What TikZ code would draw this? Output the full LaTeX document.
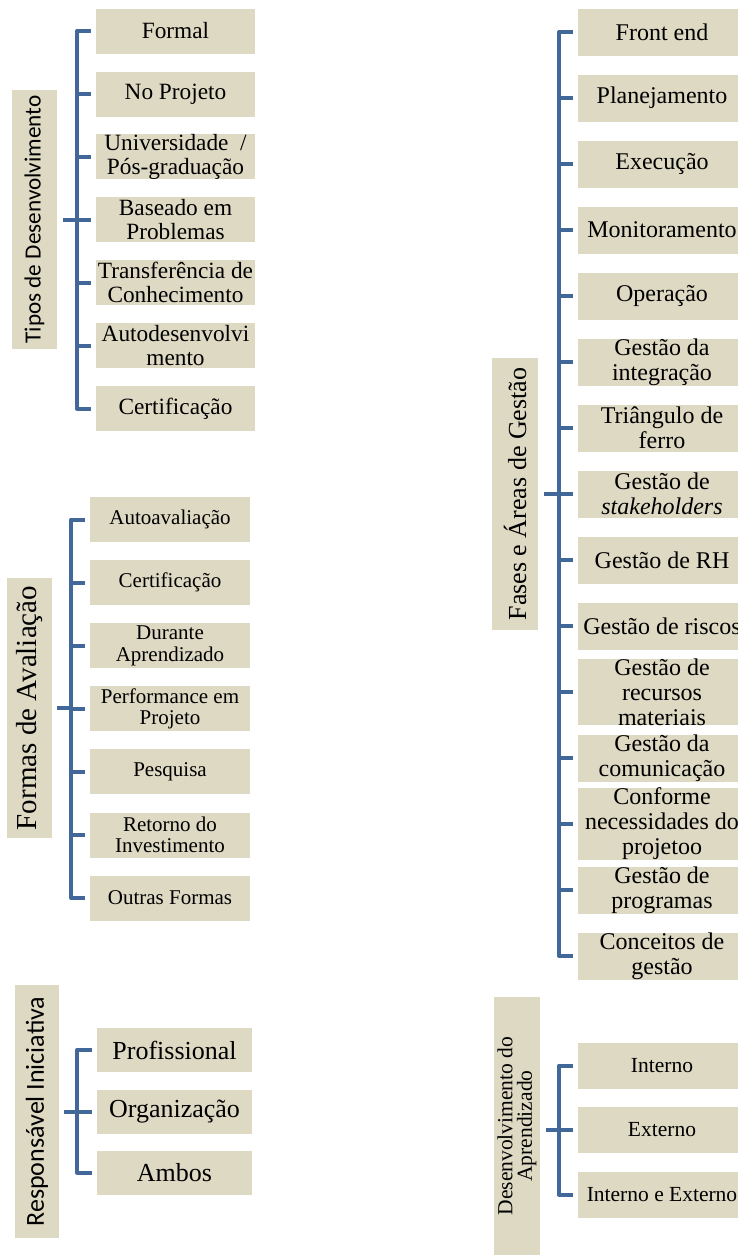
\documentclass[tikz,border=0pt]{standalone}
\usepackage{fontspec}
\setmainfont{Liberation Serif}
\newfontfamily\calib{Carlito}
\definecolor{boxfill}{RGB}{221,217,195}
\definecolor{brcol}{RGB}{66,104,154}
\tikzset{
 bx/.style={fill=boxfill, inner sep=0pt, align=center, text=black},
 br/.style={draw=brcol, line width=4pt, line join=round},
 g1/.style={bx, minimum width=159pt, minimum height=45pt, font=\fontsize{23.3}{23.5}\selectfont},
 g2/.style={bx, minimum width=160pt, minimum height=45pt, font=\fontsize{21}{21.5}\selectfont},
 g3/.style={bx, minimum width=155pt, minimum height=44pt, font=\fontsize{26}{28}\selectfont},
 g4/.style={bx, minimum width=168pt, minimum height=47pt, font=\fontsize{24}{25}\selectfont},
 g5/.style={bx, minimum width=168pt, minimum height=46pt, font=\fontsize{21.5}{22}\selectfont},
 ttl/.style={bx, rotate=90},
}
\begin{document}
\begin{tikzpicture}[x=1pt,y=-1pt]
\useasboundingbox (0,0) rectangle (738,1256);
\clip (0,0) rectangle (738,1256);

% ---------- Group 1: Tipos de Desenvolvimento
\node[ttl, minimum width=259pt, minimum height=45pt, font=\calib\fontsize{23.2}{24}\selectfont] (t1) at (34.5,219.5) {Tipos de Desenvolvimento};
\node[g1] (a1) at (175.5,31) {Formal};
\node[g1] (a2) at (175.5,94) {No Projeto};
\node[g1] (a3) at (175.5,156.8) {Universidade~~/\\Pós-graduação};
\node[g1] (a4) at (175.5,219.7) {Baseado em\\Problemas};
\node[g1] (a5) at (175.5,282.6) {Transferência de\\Conhecimento};
\node[g1] (a6) at (175.5,345.5) {Autodesenvolvi\\mento};
\node[g1] (a7) at (175.5,408.5) {Certificação};
\coordinate (v1) at (77,0);
\draw[br] ([xshift=-5pt]a1.west) -- (a1.west -| v1) -- (a7.west -| v1) -- ([xshift=-5pt]a7.west);
\foreach \i in {2,...,6} \draw[br] (a\i.west -| v1) -- ([xshift=-5pt]a\i.west);
\draw[br] ([xshift=6pt]t1.south) -- (t1.south -| v1);

% ---------- Group 2: Formas de Avaliação
\node[ttl, minimum width=260pt, minimum height=45pt, font=\fontsize{29}{30}\selectfont] (t2) at (29.5,708) {Formas de Avaliação};
\node[g2] (b1) at (170,519.5) {Autoavaliação};
\node[g2] (b2) at (170,582.6) {Certificação};
\node[g2] (b3) at (170,645.7) {Durante\\Aprendizado};
\node[g2] (b4) at (170,708.8) {Performance em\\Projeto};
\node[g2] (b5) at (170,771.9) {Pesquisa};
\node[g2] (b6) at (170,835) {Retorno do\\Investimento};
\node[g2] (b7) at (170,898) {Outras Formas};
\coordinate (v2) at (71,0);
\draw[br] ([xshift=-5pt]b1.west) -- (b1.west -| v2) -- (b7.west -| v2) -- ([xshift=-5pt]b7.west);
\foreach \i in {2,...,6} \draw[br] (b\i.west -| v2) -- ([xshift=-5pt]b\i.west);
\draw[br] ([xshift=5pt]t2.south) -- (t2.south -| v2);

% ---------- Group 3: Responsável Iniciativa
\node[ttl, minimum width=253pt, minimum height=44pt, font=\calib\fontsize{26}{28}\selectfont] (t3) at (37,1111.5) {Responsável Iniciativa};
\node[g3] (c1) at (174.5,1050) {Profissional};
\node[g3] (c2) at (174.5,1111.5) {Organização};
\node[g3] (c3) at (174.5,1172.5) {Ambos};
\coordinate (v3) at (77,0);
\draw[br] ([xshift=-5pt]c1.west) -- (c1.west -| v3) -- (c3.west -| v3) -- ([xshift=-5pt]c3.west);
\draw[br] (c2.west -| v3) -- ([xshift=-5pt]c2.west);
\draw[br] ([xshift=5pt]t3.south) -- (t3.south -| v3);

% ---------- Group 4: Fases e Áreas de Gestão
\node[ttl, minimum width=272pt, minimum height=46pt, font=\fontsize{26}{28}\selectfont] (t4) at (515,494) {Fases e Áreas de Gestão};
\node[g4] (d0) at (662,32) {Front end};
\node[g4] (d1) at (662,98) {Planejamento};
\node[g4] (d2) at (662,164) {Execução};
\node[g4] (d3) at (662,230) {Monitoramento};
\node[g4] (d4) at (662,296) {Operação};
\node[g4] (d5) at (662,362) {Gestão da\\integração};
\node[g4] (d6) at (662,428) {Triângulo de\\ferro};
\node[g4] (d7) at (662,494) {Gestão de\\\textit{stakeholders}};
\node[g4] (d8) at (662,560) {Gestão de RH};
\node[g4] (d9) at (662,626) {Gestão de riscos};
\node[g4] (d10) at (662,692) {Gestão de\\recursos\\materiais};
\node[g4] (d11) at (662,758) {Gestão da\\comunicação};
\node[g4] (d12) at (662,824) {Conforme\\necessidades do\\projetoo};
\node[g4] (d13) at (662,890) {Gestão de\\programas};
\node[g4] (d14) at (662,956) {Conceitos de\\gestão};
\coordinate (v4) at (559,0);
\draw[br] ([xshift=-5pt]d0.west) -- (d0.west -| v4) -- (d14.west -| v4) -- ([xshift=-5pt]d14.west);
\foreach \i in {1,...,13} \draw[br] (d\i.west -| v4) -- ([xshift=-5pt]d\i.west);
\draw[br] ([xshift=6pt]t4.south) -- (t4.south -| v4);

% ---------- Group 5: Desenvolvimento do Aprendizado
\node[ttl, minimum width=258pt, minimum height=46pt, font=\fontsize{21.5}{19.5}\selectfont] (t5) at (517,1126) {Desenvolvimento do\\Aprendizado};
\node[g5] (e1) at (662,1065.5) {Interno};
\node[g5] (e2) at (662,1130) {Externo};
\node[g5] (e3) at (662,1194.5) {Interno e Externo};
\coordinate (v5) at (559,0);
\draw[br] ([xshift=-5pt]e1.west) -- (e1.west -| v5) -- (e3.west -| v5) -- ([xshift=-5pt]e3.west);
\draw[br] (e2.west -| v5) -- ([xshift=-5pt]e2.west);
\draw[br] ([xshift=6pt]t5.south |- e2.west) -- (e2.west -| v5);
\end{tikzpicture}
\end{document}
